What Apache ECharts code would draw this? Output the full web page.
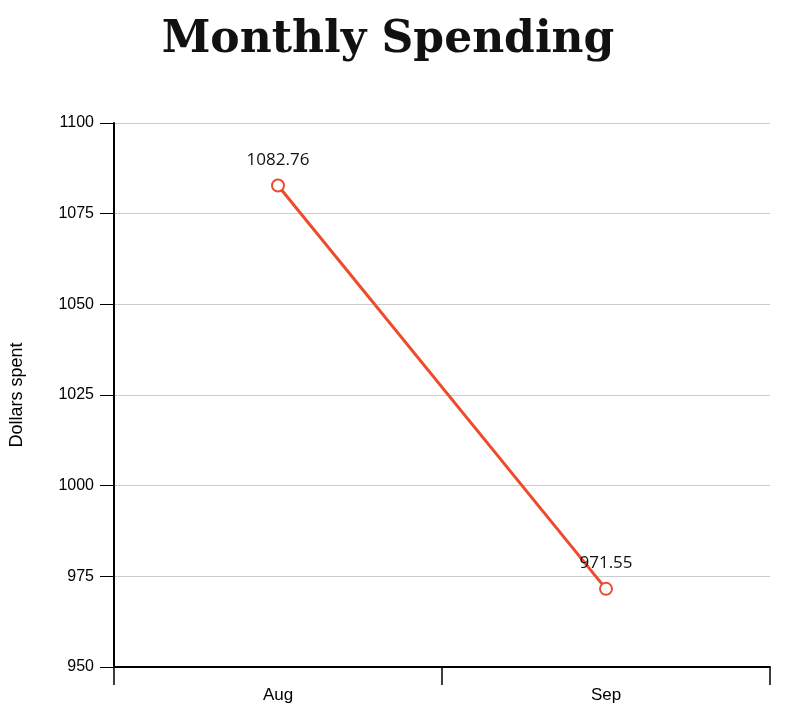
<!DOCTYPE html>
<html>
<head>
<meta charset="UTF-8">
<script src="https://cdn.jsdelivr.net/npm/echarts@6/dist/echarts.min.js"></script>
</head>
<body style="margin:0;background:#fff">
<div id="main" style="width:792px;height:716px"></div>
<script>
var months = ['Aug', 'Sep'];
var spending = [1082.76, 971.55];

var chart = echarts.init(document.getElementById('main'));
chart.setOption({
  animation: false,
  title: {
    text: 'Monthly Spending', left: 383, top: 14, textAlign: 'center',
    textStyle: { fontFamily: 'DejaVu Serif', fontWeight: 'bold', fontSize: 44, color: '#111' }
  },
  grid: { left: 107, right: 22, top: 123, bottom: 49 },
  xAxis: {
    type: 'category', data: months, boundaryGap: true,
    axisLine: { lineStyle: { color: '#000', width: 2 } },
    axisTick: { show: true, interval: 0, length: 18, lineStyle: { color: '#000', width: 1.5 } },
    axisLabel: { color: '#000', fontSize: 17, fontFamily: 'Liberation Sans', margin: 20 }
  },
  yAxis: {
    type: 'value', min: 950, max: 1100, interval: 25,
    name: 'Dollars spent', nameLocation: 'middle', nameGap: 88,
    nameTextStyle: { color: '#000', fontSize: 18, fontFamily: 'Liberation Sans' },
    axisLine: { show: true, lineStyle: { color: '#000', width: 2 } },
    axisTick: { show: true, length: 14, lineStyle: { color: '#000' } },
    axisLabel: { color: '#000', fontSize: 16, fontFamily: 'Liberation Sans', margin: 20, formatter: function (v) { return String(v); } },
    splitLine: { lineStyle: { color: '#ccc' } }
  },
  series: [{
    type: 'line', data: spending,
    symbol: 'emptyCircle', symbolSize: 12,
    lineStyle: { color: '#ee4a2c', width: 3 },
    itemStyle: { color: '#ee4a2c', borderWidth: 3 },
    label: { show: true, position: 'top', distance: 10, color: '#111', fontSize: 17, fontFamily: 'Open Sans' }
  }]
});
</script>
</body>
</html>
